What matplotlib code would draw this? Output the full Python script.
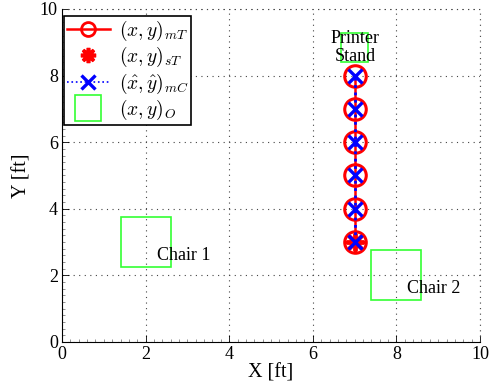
"""Tracking result vs. true positions, with obstacles"""

import matplotlib
matplotlib.use("Agg")
import matplotlib.pyplot as plt
from matplotlib.lines import Line2D
from matplotlib.patches import Rectangle
from matplotlib.ticker import MultipleLocator

# measured target track (x, y)_mT
MT_X = [7, 7, 7, 7, 7, 7]
MT_Y = [3, 4, 5, 6, 7, 8]
# start of target (x, y)_sT
ST_X = [7]
ST_Y = [3]
# estimated camera track (x^, y^)_mC
MC_X = [7, 7, 7, 7, 7, 7]
MC_Y = [3, 4, 5, 6, 7, 8]
# obstacles (x, y)_O : centre and extent in ft
OBS_X = [2.0, 8.0, 7.0]
OBS_Y = [3.0, 2.0, 8.85]
OBS_W = [1.2, 1.2, 0.64]
OBS_H = [1.5, 1.5, 0.87]
OBS_NAMES = ["Chair 1", "Chair 2", "Printer\nStand"]

SERIF = ["Liberation Serif", "DejaVu Serif"]
plt.rcParams["font.family"] = SERIF
plt.rcParams["mathtext.fontset"] = "cm"

DPI = 100
fig = plt.figure(figsize=(491 / DPI, 390 / DPI), dpi=DPI)
ax = fig.add_axes([62 / 491, 48 / 390, 418 / 491, 333 / 390])

RED = "#ff0000"
BLUE = "#0000ff"
GREEN = "#33ff33"
GRID = dict(linestyle=(0, (1, 4)), color="#444444", linewidth=0.8)

# obstacles
for i in range(len(OBS_X)):
    ax.add_patch(Rectangle((OBS_X[i] - OBS_W[i] / 2, OBS_Y[i] - OBS_H[i] / 2),
                           OBS_W[i], OBS_H[i], fill=False, edgecolor=GREEN,
                           linewidth=1.2, zorder=2))

ax.plot(MT_X, MT_Y, "-o", color=RED, lw=1.8, ms=15.5, mew=2.2, mfc="none",
        zorder=3)
ax.plot(ST_X, ST_Y, linestyle="none", marker=(8, 2, 0), color=RED, ms=13,
        mew=2.8, zorder=3)
ax.plot(MC_X, MC_Y, ":x", color=BLUE, lw=2.0, ms=10, mew=2.4, zorder=4)

ax.text(2.27, 2.6, OBS_NAMES[0], fontsize=13, va="center", ha="left")
ax.text(8.25, 1.6, OBS_NAMES[1], fontsize=13, va="center", ha="left")
ax.text(7.02, 8.85, OBS_NAMES[2], fontsize=13, va="center", ha="center",
        linespacing=1.05)

ax.set_xlim(0, 10)
ax.set_ylim(0, 10)
ax.xaxis.set_major_locator(MultipleLocator(2))
ax.yaxis.set_major_locator(MultipleLocator(2))
ax.xaxis.set_minor_locator(MultipleLocator(0.2))
ax.yaxis.set_minor_locator(MultipleLocator(0.2))
ax.tick_params(which="both", direction="in", top=False, right=False,
               labelsize=13, width=0.6, pad=3)
ax.tick_params(which="major", length=5)
ax.tick_params(which="minor", length=2.5, color="gray")
ax.grid(True, which="major", **GRID)
for s in ["top", "right"]:
    ax.spines[s].set_visible(False)
# dotted frame at the far edges, like the grid
ax.axhline(10, clip_on=False, **GRID)
ax.axvline(10, clip_on=False, **GRID)
ax.set_axisbelow(True)

ax.set_xlabel("X [ft]", fontsize=14.5, labelpad=0)
ax.set_ylabel("Y [ft]", fontsize=14.5, labelpad=6)

handles = [
    Line2D([], [], color=RED, lw=1.8, marker="o", ms=10, mew=2.0, mfc="none"),
    Line2D([], [], color=RED, linestyle="none", marker=(8, 2, 0), ms=11,
           mew=2.6),
    Line2D([], [], color=BLUE, lw=1.2, linestyle=":", marker="x", ms=9.5,
           mew=2.4),
    Line2D([], [], color=GREEN, linestyle="none", marker="s", ms=18.5,
           mew=1.2, mfc="none"),
]
labels = [r"$(x,y)_{mT}$", r"$(x,y)_{sT}$", r"$(\hat{x},\hat{y})_{mC}$",
          r"$(x,y)_{O}$"]
leg = ax.legend(handles, labels, loc="upper left",
                bbox_to_anchor=(0.005, 0.98), borderaxespad=0, fontsize=14,
                handlelength=2.2, handletextpad=0.45, labelspacing=0.12,
                borderpad=0.15, fancybox=False, framealpha=1, edgecolor="k")
leg.get_frame().set_linewidth(1.2)

plt.savefig("out.png", dpi=DPI)
